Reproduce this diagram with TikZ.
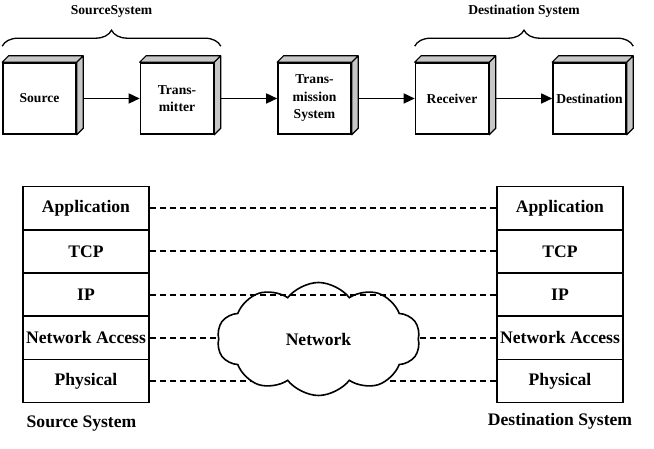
\documentclass[tikz,border=0pt]{standalone}
\usepackage{fontspec}
\setmainfont{Liberation Serif}
\colorlet{sidegray}{black!22}
\usetikzlibrary{shapes,positioning,decorations.pathreplacing,arrows.meta}
\tikzstyle{unit}=[draw,line width=1.6pt,fill=white,minimum width=73pt,
  minimum height=71pt,inner sep=1pt,align=center,
  font=\bfseries\fontsize{13.6}{17.5}\selectfont]
\tikzstyle{face}=[draw,line width=1.2pt,fill=sidegray,line join=round]
\tikzstyle{flow}=[-{Triangle[length=11pt,width=10pt]},line width=1.5pt]
\tikzstyle{layer}=[draw,line width=1.6pt,minimum width=126pt,
  minimum height=43.2pt,inner sep=0pt,
  font=\bfseries\fontsize{17.6}{20}\selectfont]
\tikzstyle{peer}=[line width=2pt,dash pattern=on 6pt off 4pt]
\tikzstyle{span}=[decorate,decoration={brace,amplitude=16pt},line width=1.3pt]
\tikzstyle{title}=[font=\bfseries\fontsize{13.6}{16}\selectfont]
\tikzstyle{caption}=[font=\bfseries\fontsize{17.6}{20}\selectfont]

\begin{document}
\begin{tikzpicture}[x=1pt, y=1pt, node distance=137.5pt, on grid]
  \useasboundingbox (0,0) rectangle (654,449);

  % communications model
  \node[unit] (src) at (39.5,350.5) {Source};
  \node[unit, right=of src] (tx) {Trans-\\mitter};
  \node[unit, right=of tx] (sys) {Trans-\\mission\\System};
  \node[unit, right=of sys] (rx) {Receiver};
  \node[unit, right=of rx] (dst) {Destination};

  \foreach \n in {src,tx,sys,rx,dst}
    \filldraw[face] (\n.north west) -- ++(6.5,6.5)
      -- ([shift={(6.5,6.5)}]\n.north east)
      -- ([shift={(6.5,6.5)}]\n.south east) -- (\n.south east)
      -- (\n.north east) -- cycle
      (\n.north east) -- ++(6.5,6.5);

  \draw[flow] ([xshift=6.5pt]src.east) -- (tx);
  \draw[flow] ([xshift=6.5pt]tx.east) -- (sys);
  \draw[flow] ([xshift=6.5pt]sys.east) -- (rx);
  \draw[flow] ([xshift=6.5pt]rx.east) -- (dst);

  \draw[span] ([yshift=16pt]src.north west)
    -- ([shift={(6.5pt,16pt)}]tx.north east)
    node[midway, yshift=35pt, title] (srctitle) {SourceSystem};
  \draw[span] ([yshift=16pt]rx.north west)
    -- ([shift={(6.5pt,16pt)}]dst.north east)
    node[midway, yshift=35pt, title] (dsttitle) {Destination System};

  % protocol stacks
  \node[layer] (appL) at (86,240.8) {Application};
  \node[layer, below=43.2pt of appL] (tcpL) {TCP};
  \node[layer, below=43.2pt of tcpL] (ipL) {IP};
  \node[layer, below=43.2pt of ipL] (naL) {Network Access};
  \node[layer, below=43.2pt of naL] (physL) {Physical};

  \node[layer, right=474pt of appL] (appR) {Application};
  \node[layer, below=43.2pt of appR] (tcpR) {TCP};
  \node[layer, below=43.2pt of tcpR] (ipR) {IP};
  \node[layer, below=43.2pt of ipR] (naR) {Network Access};
  \node[layer, below=43.2pt of naR] (physR) {Physical};

  \draw[peer] (appL) -- (appR) (tcpL) -- (tcpR)
    (naL) -- (naR) (physL) -- (physR);
  \node[cloud, draw, fill=white, line width=1.6pt, cloud puffs=10,
    cloud puff arc=105, aspect=1.8, minimum width=203pt, minimum height=113pt,
    font=\bfseries\fontsize{17.6}{20}\selectfont] (net) at (318.5,110) {Network};
  \draw[peer] (ipL) -- (ipR);

  \node[caption] (srcsys) at ([shift={(-4.5pt,-20pt)}]physL.south) {Source System};
  \node[caption] (dstsys) at ([yshift=-18pt]physR.south) {Destination System};

\end{tikzpicture}
\end{document}
